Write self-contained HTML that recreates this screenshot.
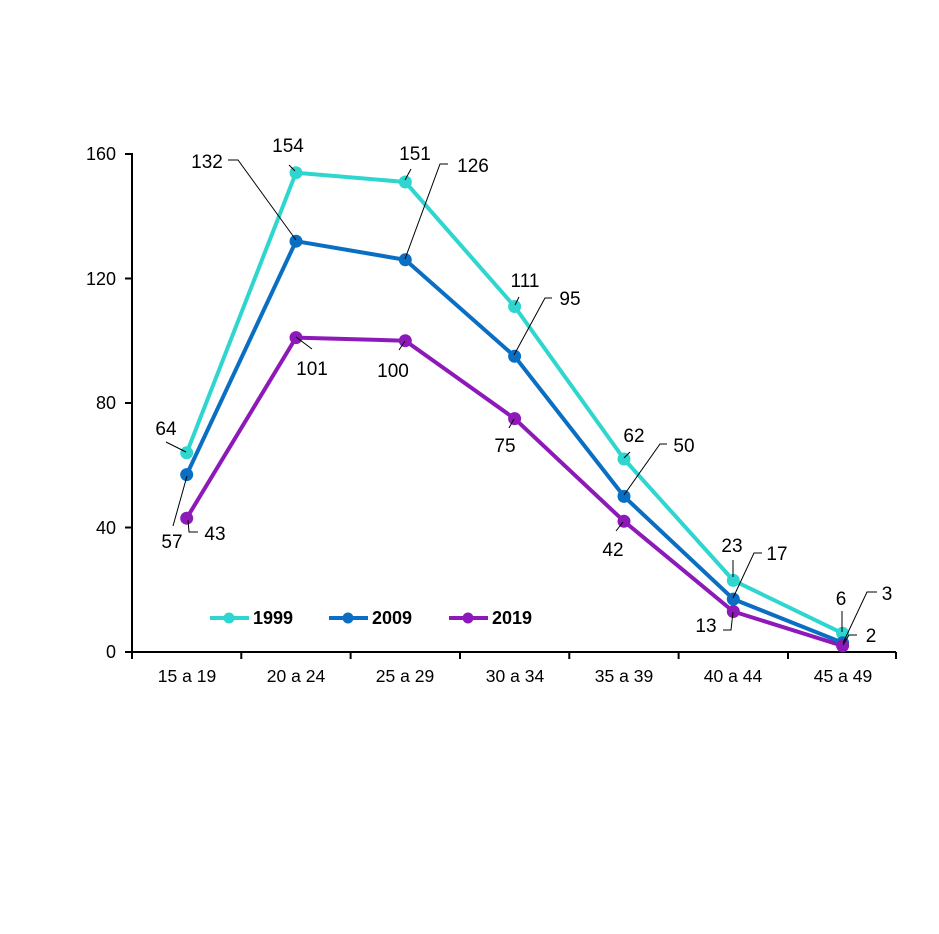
<!DOCTYPE html>
<html><head><meta charset="utf-8"><style>html,body{margin:0;padding:0;background:#fff}svg{display:block}text{font-family:"Liberation Sans",Arial,sans-serif;fill:#000}</style></head>
<body>
<svg width="939" height="934" viewBox="0 0 939 934" xmlns="http://www.w3.org/2000/svg">
<g stroke="#000" stroke-width="2" fill="none">
<line x1="132" y1="153" x2="132" y2="653"/>
<line x1="131" y1="652" x2="896" y2="652"/>
<line x1="125" y1="154" x2="132" y2="154"/>
<line x1="125" y1="278.5" x2="132" y2="278.5"/>
<line x1="125" y1="403" x2="132" y2="403"/>
<line x1="125" y1="527.5" x2="132" y2="527.5"/>
<line x1="125" y1="652" x2="132" y2="652"/>
<line x1="132" y1="652" x2="132" y2="659"/>
<line x1="241.3" y1="652" x2="241.3" y2="659"/>
<line x1="350.6" y1="652" x2="350.6" y2="659"/>
<line x1="460" y1="652" x2="460" y2="659"/>
<line x1="569.3" y1="652" x2="569.3" y2="659"/>
<line x1="678.6" y1="652" x2="678.6" y2="659"/>
<line x1="788" y1="652" x2="788" y2="659"/>
<line x1="896" y1="652" x2="896" y2="659"/>
</g>
<g font-size="18" text-anchor="end">
<text x="116" y="160">160</text><text x="116" y="285">120</text><text x="116" y="409">80</text><text x="116" y="534">40</text><text x="116" y="658">0</text>
</g>
<g font-size="17.5" text-anchor="middle">
<text x="187" y="682">15 a 19</text><text x="296" y="682">20 a 24</text><text x="405" y="682">25 a 29</text><text x="515" y="682">30 a 34</text><text x="624" y="682">35 a 39</text><text x="733" y="682">40 a 44</text><text x="843" y="682">45 a 49</text>
</g>
<g fill="none" stroke-width="4" stroke-linejoin="round">
<polyline stroke="#2fd6cf" points="186.7,452.8 296,172.7 405.3,182 514.6,306.5 624,459 733.3,580.4 842.6,633.3"/>
<polyline stroke="#0a6fc2" points="186.7,474.6 296,241.2 405.3,259.8 514.6,356.3 624,496.4 733.3,599.1 842.6,642.7"/>
<polyline stroke="#8e19b9" points="186.7,518.2 296,337.6 405.3,340.7 514.6,418.6 624,521.3 733.3,611.5 842.6,645.8"/>
</g>
<g fill="#2fd6cf"><circle cx="186.7" cy="452.8" r="6.5"/><circle cx="296" cy="172.7" r="6.5"/><circle cx="405.3" cy="182" r="6.5"/><circle cx="514.6" cy="306.5" r="6.5"/><circle cx="624" cy="459" r="6.5"/><circle cx="733.3" cy="580.4" r="6.5"/><circle cx="842.6" cy="633.3" r="6.5"/></g>
<g fill="#0a6fc2"><circle cx="186.7" cy="474.6" r="6.5"/><circle cx="296" cy="241.2" r="6.5"/><circle cx="405.3" cy="259.8" r="6.5"/><circle cx="514.6" cy="356.3" r="6.5"/><circle cx="624" cy="496.4" r="6.5"/><circle cx="733.3" cy="599.1" r="6.5"/><circle cx="842.6" cy="642.7" r="6.5"/></g>
<g fill="#8e19b9"><circle cx="186.7" cy="518.2" r="6.5"/><circle cx="296" cy="337.6" r="6.5"/><circle cx="405.3" cy="340.7" r="6.5"/><circle cx="514.6" cy="418.6" r="6.5"/><circle cx="624" cy="521.3" r="6.5"/><circle cx="733.3" cy="611.5" r="6.5"/><circle cx="842.6" cy="645.8" r="6.5"/></g>
<g stroke="#000" stroke-width="1" fill="none">
<polyline points="166,442 186,452"/>
<polyline points="289,165 295,171"/>
<polyline points="411,169 405,180"/>
<polyline points="228,160 238,160 296,240"/>
<polyline points="448,164 440,164 405,259"/>
<polyline points="519,297 515,305"/>
<polyline points="552,298 545,298 514,355"/>
<polyline points="630,452 624,458"/>
<polyline points="667,444 660,444 624,495"/>
<polyline points="733,560 733,577"/>
<polyline points="762,553 754,553 733,598"/>
<polyline points="723,630 731,630 733,612"/>
<polyline points="842,611 842,632"/>
<polyline points="877,592 867,592 843,643"/>
<polyline points="857,635 849,635 843,645"/>
<polyline points="296,337 312,349"/>
<polyline points="405,341 399,350"/>
<polyline points="514,419 509,428"/>
<polyline points="623,522 616,531"/>
<polyline points="173,526 187,476"/>
<polyline points="188,520 189,532 198,532"/>
</g>
<g font-size="19" text-anchor="middle">
<text x="166" y="435">64</text>
<text x="288" y="152">154</text>
<text x="415" y="160">151</text>
<text x="207" y="168">132</text>
<text x="473" y="172">126</text>
<text x="525" y="287">111</text>
<text x="570" y="305">95</text>
<text x="634" y="442">62</text>
<text x="684" y="452">50</text>
<text x="732" y="552">23</text>
<text x="777" y="560">17</text>
<text x="706" y="632">13</text>
<text x="841" y="605">6</text>
<text x="887" y="600">3</text>
<text x="871" y="642">2</text>
<text x="312" y="375">101</text>
<text x="393" y="377">100</text>
<text x="505" y="452">75</text>
<text x="613" y="556">42</text>
<text x="172" y="548">57</text>
<text x="215" y="540">43</text>
</g>
<g stroke-width="4"><line x1="210" y1="618" x2="249" y2="618" stroke="#2fd6cf"/><line x1="329" y1="618" x2="368" y2="618" stroke="#0a6fc2"/><line x1="449" y1="618" x2="488" y2="618" stroke="#8e19b9"/></g>
<circle cx="229" cy="618" r="5.5" fill="#2fd6cf"/><circle cx="348" cy="618" r="5.5" fill="#0a6fc2"/><circle cx="468" cy="618" r="5.5" fill="#8e19b9"/>
<g font-size="18" font-weight="bold"><text x="253" y="624">1999</text><text x="372" y="624">2009</text><text x="492" y="624">2019</text></g>
</svg>
</body></html>
